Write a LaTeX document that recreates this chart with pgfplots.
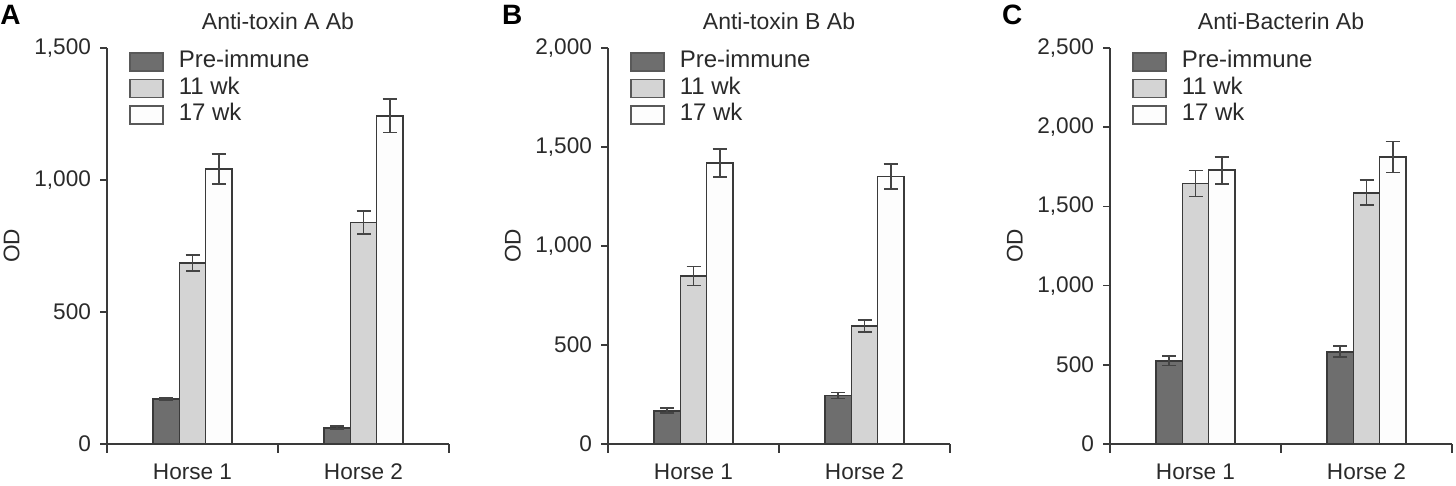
\documentclass[border=0pt]{standalone}
\usepackage{fontspec}
\setmainfont{Liberation Sans}
\usepackage{pgfplots}
\pgfplotsset{compat=1.18}
\definecolor{cpre}{HTML}{6E6E6E}
\definecolor{cmid}{HTML}{D4D4D4}
\definecolor{clate}{HTML}{FDFDFD}
\definecolor{cline}{HTML}{3A3A3A}
\definecolor{cerr}{HTML}{444444}
\definecolor{ctext}{HTML}{2A2A2A}
\pgfplotsset{
  panel/.style={
    scale only axis, width=171pt, height=198pt, anchor=south west,
    xmin=0, xmax=2, ymin=0,
    axis lines=left, axis line style={-, line width=0.8pt, cline},
    tick align=outside, tick pos=left,
    xtick={0.5,1.5}, xticklabels={Horse 1, Horse 2},
    major x tick style={draw=none},
    minor xtick={0,1,2}, minor tick length=4.3pt,
    minor x tick style={line width=0.8pt, cline},
    major tick length=3.5pt,
    y tick style={line width=0.8pt, cline},
    tick label style={font=\fontsize{11.3}{13}\selectfont, text=ctext},
    yticklabel style={xshift=-1pt},
    xticklabel style={yshift=-3pt},
    ylabel={OD},
    every axis y label/.style={at={(axis description cs:-0.2786,0.5)}, rotate=90, anchor=center,
      font=\fontsize{11.3}{13}\selectfont, text=ctext},
    title style={at={(axis description cs:0.5,1)}, anchor=base, yshift=3.2pt, font=\fontsize{11.5}{13}\selectfont, text=ctext},
    ybar, bar width=0.153,
    every axis plot/.append style={draw=cline, line width=0.9pt,
      error bars/y dir=both, error bars/y explicit,
      error bars/error bar style={line width=0.9pt, cerr},
      error bars/error mark options={line width=0.9pt, cerr, mark size=3.5pt, rotate=90}},
    legend style={at={(axis description cs:0.0645,0.99)}, anchor=north west,
      draw=none, fill=none, inner sep=0pt, outer sep=0pt,
      font=\fontsize{12}{14}\selectfont, text=ctext,
      row sep=3.05pt, column sep=0pt,
      nodes={inner sep=0pt, text height=8pt, text depth=2.2pt}},
    legend cell align=left,
    legend image code/.code={\draw[#1, draw=black!65, line width=0.8pt] (0pt,-4.5pt) rectangle (16.5pt,4.5pt); \path (24pt,0pt);},
  },
  pre/.style={fill=cpre, bar shift=-0.153},
  mid/.style={fill=cmid, bar shift=0},
  late/.style={fill=clate, bar shift=0.153},
}
\begin{document}
\begin{tikzpicture}
\path[use as bounding box] (0,0) rectangle (728pt,243pt);
% Panel A
\begin{axis}[panel, at={(53.5pt,21pt)}, ymax=1500,
  ytick={0,500,1000,1500}, yticklabels={0,500,{1,000},{1,500}},
  title={Anti-toxin A Ab}]
\addplot[pre] coordinates {(0.5,170) +- (0,3) (1.5,62) +- (0,5)};
\addplot[mid] coordinates {(0.5,685) +- (0,30) (1.5,839) +- (0,43)};
\addplot[late] coordinates {(0.5,1042) +- (0,56) (1.5,1243) +- (0,63)};
\legend{Pre-immune, 11 wk, 17 wk}
\end{axis}
% Panel B
\begin{axis}[panel, at={(304pt,21pt)}, ymax=2000,
  ytick={0,500,1000,1500,2000}, yticklabels={0,500,{1,000},{1,500},{2,000}},
  title={Anti-toxin B Ab}]
\addplot[pre] coordinates {(0.5,168) +- (0,13) (1.5,245) +- (0,15)};
\addplot[mid] coordinates {(0.5,848) +- (0,48) (1.5,595) +- (0,31)};
\addplot[late] coordinates {(0.5,1418) +- (0,70) (1.5,1351) +- (0,65)};
\legend{Pre-immune, 11 wk, 17 wk}
\end{axis}
% Panel C
\begin{axis}[panel, at={(555pt,21pt)}, ymax=2500,
  ytick={0,500,1000,1500,2000,2500}, yticklabels={0,500,{1,000},{1,500},{2,000},{2,500}},
  title={Anti-Bacterin Ab}]
\addplot[pre] coordinates {(0.5,525) +- (0,30) (1.5,582) +- (0,35)};
\addplot[mid] coordinates {(0.5,1644) +- (0,82) (1.5,1587) +- (0,78)};
\addplot[late] coordinates {(0.5,1728) +- (0,85) (1.5,1812) +- (0,98)};
\legend{Pre-immune, 11 wk, 17 wk}
\end{axis}
\node[anchor=base west, inner sep=0pt, font=\fontsize{14}{16}\bfseries\selectfont] at (0pt,230.5pt) {A};
\node[anchor=base west, inner sep=0pt, font=\fontsize{14}{16}\bfseries\selectfont] at (250.8pt,230.5pt) {B};
\node[anchor=base west, inner sep=0pt, font=\fontsize{14}{16}\bfseries\selectfont] at (500.8pt,230.5pt) {C};
\end{tikzpicture}
\end{document}
